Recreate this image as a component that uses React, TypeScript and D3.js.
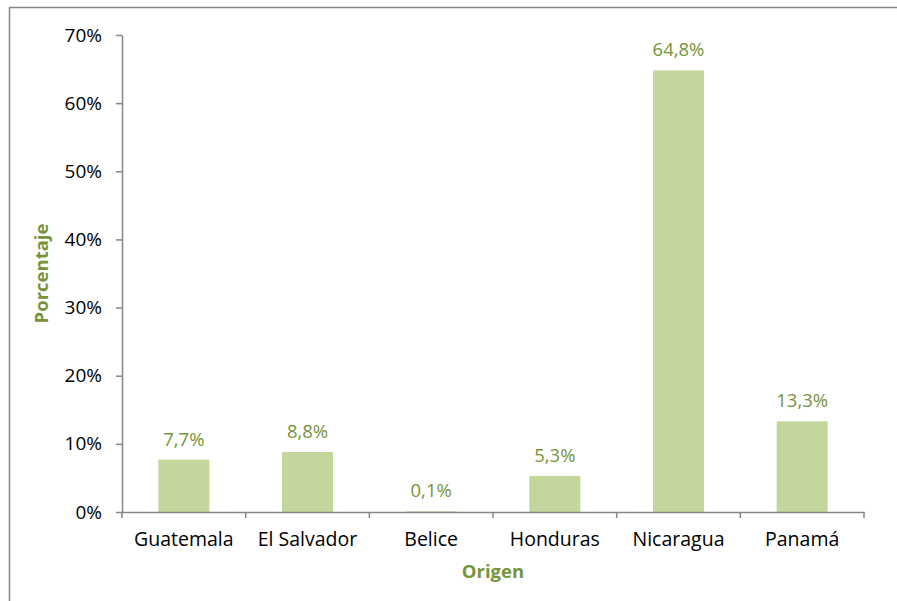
import React, { useEffect, useRef } from 'react';
import * as d3 from 'd3';

const categories = ['Guatemala', 'El Salvador', 'Belice', 'Honduras', 'Nicaragua', 'Panamá'];
const values = [7.7, 8.8, 0.1, 5.3, 64.8, 13.3];
const valueLabels = ['7,7%', '8,8%', '0,1%', '5,3%', '64,8%', '13,3%'];
const yTicks = [0, 10, 20, 30, 40, 50, 60, 70];

const App = () => {
  const ref = useRef<SVGSVGElement>(null);

  useEffect(() => {
    const svg = d3.select(ref.current);
    svg.selectAll('*').remove();
    const font = '"Open Sans", Lato, sans-serif';
    const fs = 18.5;
    const left = 122, right = 864, top = 35, bottom = 512;

    // chart frame
    svg.append('rect')
      .attr('x', 9.5).attr('y', 7.5).attr('width', 900).attr('height', 600)
      .attr('fill', 'white').attr('stroke', '#868686').attr('stroke-width', 1.5);

    const x = d3.scaleBand().domain(categories).range([left, right]).paddingInner(0).paddingOuter(0);
    const y = d3.scaleLinear().domain([0, 70]).range([bottom, top]);
    const barW = 51;

    const g = svg.append('g');

    g.selectAll('rect.bar')
      .data(values)
      .enter()
      .append('rect')
      .attr('class', 'bar')
      .attr('x', (d, i) => (x(categories[i]) as number) + x.bandwidth() / 2 - barW / 2)
      .attr('y', d => y(d))
      .attr('width', barW)
      .attr('height', d => bottom - y(d))
      .attr('fill', '#c3d69b');

    g.selectAll('text.val')
      .data(values)
      .enter()
      .append('text')
      .attr('class', 'val')
      .attr('x', (d, i) => (x(categories[i]) as number) + x.bandwidth() / 2)
      .attr('y', d => y(d) - 14)
      .attr('text-anchor', 'middle')
      .attr('font-family', font)
      .attr('font-size', 18.5)
      .attr('fill', '#77933c')
      .text((d, i) => valueLabels[i]);

    // y axis
    const yAxis = svg.append('g').attr('transform', `translate(${left},0)`)
      .call(d3.axisLeft(y).tickValues(yTicks).tickSize(6).tickSizeOuter(0).tickPadding(14).tickFormat(d => `${d}%`));
    yAxis.select('.domain').attr('stroke', '#868686').attr('stroke-width', 1.5);
    yAxis.selectAll('.tick line').attr('stroke', '#868686').attr('stroke-width', 1.5);
    yAxis.selectAll('.tick text').attr('font-family', font).attr('font-size', 19).attr('fill', '#000');

    // x axis
    const xAxis = svg.append('g').attr('transform', `translate(0,${bottom})`)
      .call(d3.axisBottom(x).tickSize(0).tickPadding(20));
    xAxis.select('.domain').attr('stroke', '#868686').attr('stroke-width', 1.5);
    xAxis.selectAll('.tick text').attr('font-family', font).attr('font-size', 19.5).attr('fill', '#000');
    const edges = categories.map(c => x(c) as number).concat([right]);
    xAxis.selectAll('line.edge')
      .data(edges)
      .enter()
      .append('line')
      .attr('class', 'edge')
      .attr('x1', d => d).attr('x2', d => d)
      .attr('y1', 0).attr('y2', 6)
      .attr('stroke', '#868686').attr('stroke-width', 1.5);

    svg.append('text')
      .attr('x', (left + right) / 2)
      .attr('y', 578)
      .attr('text-anchor', 'middle')
      .attr('font-family', font)
      .attr('font-size', fs)
      .attr('font-weight', 'bold')
      .attr('fill', '#77933c')
      .text('Origen');

    svg.append('text')
      .attr('transform', `translate(48,${(top + bottom) / 2}) rotate(-90)`)
      .attr('text-anchor', 'middle')
      .attr('font-family', font)
      .attr('font-size', fs)
      .attr('font-weight', 'bold')
      .attr('fill', '#77933c')
      .text('Porcentaje');
  }, []);

  return (
    <svg ref={ref} width={897} height={601} style={{ position: 'absolute', left: 0, top: 0 }} />
  );
};

export default App;
